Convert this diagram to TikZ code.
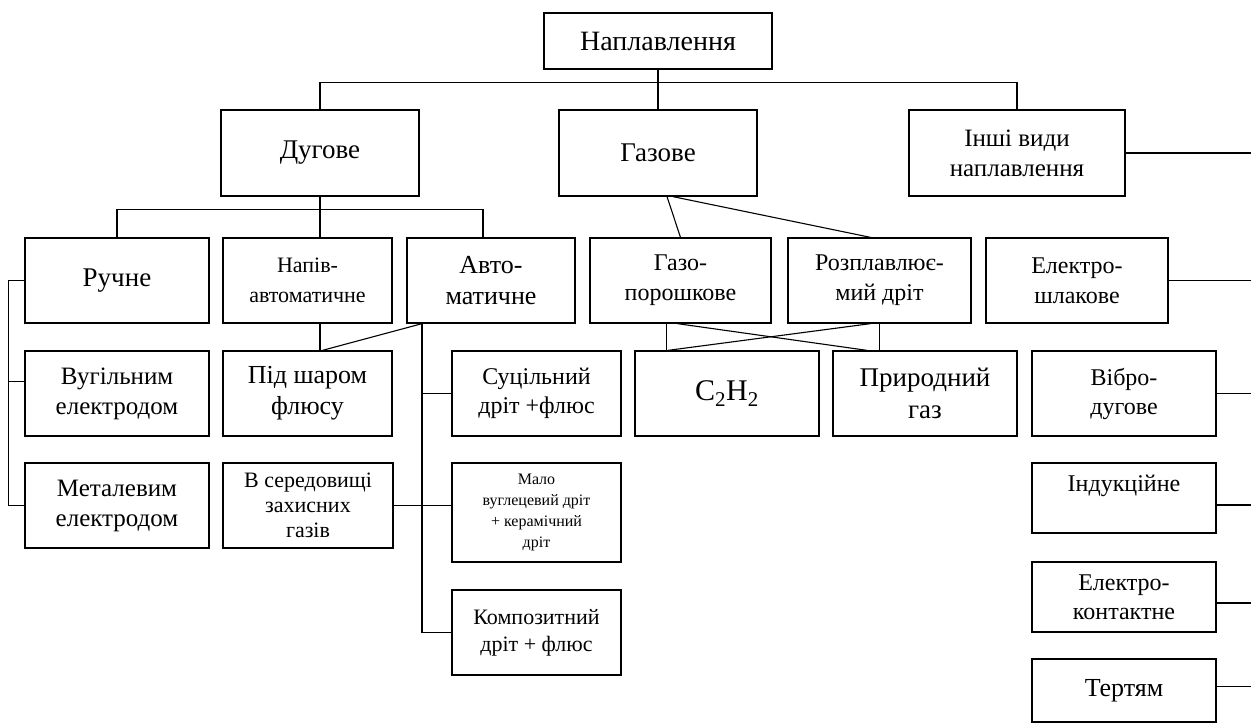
\documentclass[tikz,border=0pt]{standalone}
\usepackage{fontspec}
\setmainfont{Liberation Serif}
\usepackage{tikz}
\usetikzlibrary{positioning}

\begin{document}
\begin{tikzpicture}[
  x=1pt, y=-1pt,
  box/.style={draw, line width=1.3pt, align=center, inner sep=1pt, font=\fontsize{25}{30}\selectfont},
  link/.style={line width=1.1pt}
]
\useasboundingbox (0,0) rectangle (1251,726);
\coordinate (edge) at (1251,0);

% levels 1 and 2
\node[box, minimum width=228pt, minimum height=56pt, font=\fontsize{28}{32}\selectfont] (top) at (658,41) {Наплавлення};
\node[box, minimum width=198pt, minimum height=86pt, font=\fontsize{27}{32}\selectfont] (dug) at (320,153) {Дугове};
\node[box, minimum width=198pt, minimum height=86pt, font=\fontsize{27}{32}\selectfont] (gaz) at (658,153) {Газове};
\node[box, minimum width=216pt, minimum height=86pt] (inshi) at (1017,153) {Інші види\\наплавлення};

% level 3
\node[box, minimum width=184pt, minimum height=85pt, font=\fontsize{27}{32}\selectfont] (ruch) at (117,280.5) {Ручне};
\node[box, minimum width=169pt, minimum height=85pt, font=\fontsize{22}{30}\selectfont] (napiv) at (307.5,280.5) {Напів-\\автоматичне};
\node[box, minimum width=168pt, minimum height=85pt, font=\fontsize{26}{31}\selectfont] (avto) at (491,280.5) {Авто-\\матичне};
\node[box, minimum width=181pt, minimum height=85pt, font=\fontsize{24}{30}\selectfont] (gazpor) at (680.5,280.5) {Газо-\\порошкове};
\node[box, minimum width=183pt, minimum height=85pt, font=\fontsize{24}{30}\selectfont] (rozpl) at (879.5,280.5) {Розплавлює-\\мий дріт};
\node[box, minimum width=182pt, minimum height=85pt, font=\fontsize{24}{30}\selectfont] (elshl) at (1077,280.5) {Електро-\\шлакове};

% level 4
\node[box, minimum width=184pt, minimum height=85pt] (vug) at (117,393.5) {Вугільним\\електродом};
\node[box, minimum width=169pt, minimum height=85pt, font=\fontsize{26}{31}\selectfont] (pidshar) at (307.5,393.5) {Під шаром\\флюсу};
\node[box, minimum width=169pt, minimum height=85pt, font=\fontsize{24}{29}\selectfont] (sutsil) at (536.5,393.5) {Суцільний\\дріт +флюс};
\node[box, minimum width=184pt, minimum height=85pt, font=\fontsize{30}{34}\selectfont] (ctwo) at (727,393.5) {C\textsubscript{2}H\textsubscript{2}};
\node[box, minimum width=184pt, minimum height=85pt, font=\fontsize{27}{32}\selectfont] (pryr) at (925,393.5) {Природний\\газ};
\node[box, minimum width=184pt, minimum height=85pt, font=\fontsize{24}{29}\selectfont] (vibro) at (1124,393.5) {Вібро-\\дугове};

% level 5 and below
\node[box, minimum width=184pt, minimum height=85pt] (metal) at (117,505.5) {Металевим\\електродом};
\node[box, minimum width=170pt, minimum height=85pt, font=\fontsize{22}{25}\selectfont] (sered) at (308,505.5) {В середовищі\\захисних\\газів};
\node[box, minimum width=169pt, minimum height=99pt, font=\fontsize{16}{21}\selectfont] (malo) at (536.5,512.5) {Мало\\вуглецевий дріт\\+ керамічний\\дріт};
\node[box, minimum width=169pt, minimum height=85pt, font=\fontsize{22}{27}\selectfont] (kompoz) at (536.5,632.5) {Композитний\\дріт + флюс};
\node[box, minimum width=184pt, minimum height=70pt, font=\fontsize{24}{30}\selectfont] (induk) at (1124,498) {Індукційне\\\mbox{}};
\node[box, minimum width=184pt, minimum height=70pt, font=\fontsize{24}{29}\selectfont] (elkont) at (1124,597) {Електро-\\контактне};
\node[box, minimum width=184pt, minimum height=63pt, font=\fontsize{26}{30}\selectfont] (tertyam) at (1124,690.5) {Тертям};

% connectors
\draw[link] (top.south) -- (gaz.north);
\draw[link] (dug.north) -- ++(0,-27) -| (inshi.north);
\draw[link] (dug.south) -- (dug.south |- napiv.north);
\draw[link] (ruch.north) -- ++(0,-28) -| ([xshift=-8pt]avto.north);
\draw[link] (napiv.south -| dug.south) -- (pidshar.north -| dug.south);
\coordinate (avdrop) at ([xshift=-69pt]avto.south);
\draw[link] (avdrop) -- ([xshift=15pt]pidshar.north);
\draw[link] (avdrop) |- (kompoz.west);
\draw[link] (sutsil.west) -- (sutsil.west -| avdrop);
\draw[link] (sered.east) -- (sered.east -| malo.west);
\draw[link] (ruch.west) -- ++(-16,0) |- (metal.west);
\draw[link] ([yshift=12pt]vug.west) -- ++(-16,0);
\draw[link] ([xshift=9pt]gaz.south) -- (gazpor.north);
\draw[link] ([xshift=15pt]gaz.south) -- ([xshift=-9pt]rozpl.north);
\draw[link] ([xshift=-14pt]gazpor.south) -- ([xshift=-14pt]gazpor.south |- ctwo.north);
\draw[link] (rozpl.south) -- (rozpl.south |- pryr.north);
\draw[link] ([xshift=-3pt]gazpor.south) -- ([xshift=-58pt]pryr.north);
\draw[link] ([xshift=-9pt]rozpl.south) -- ([xshift=-59pt]ctwo.north);
\draw[link] (inshi.east) -- (inshi.east -| edge);
\draw[link] (elshl.east) -- (elshl.east -| edge);
\draw[link] (vibro.east) -- (vibro.east -| edge);
\draw[link] ([yshift=-7pt]induk.east) -- ([yshift=-7pt]induk.east -| edge);
\draw[link] ([yshift=-6pt]elkont.east) -- ([yshift=-6pt]elkont.east -| edge);
\draw[link] ([yshift=4pt]tertyam.east) -- ([yshift=4pt]tertyam.east -| edge);
\end{tikzpicture}
\end{document}
